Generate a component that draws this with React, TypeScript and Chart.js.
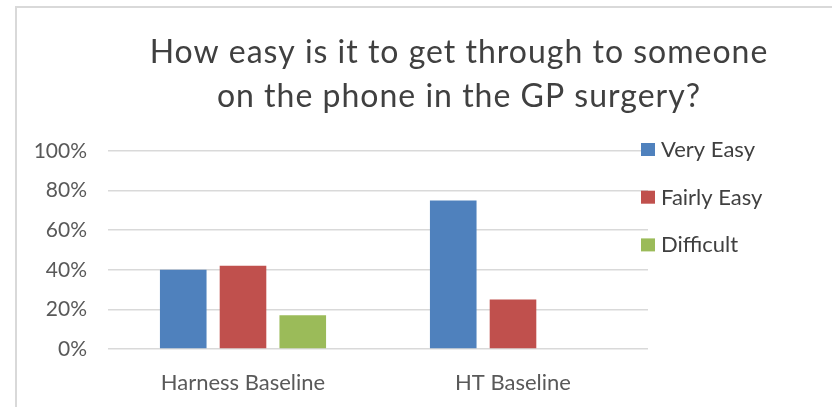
import React, { useEffect, useRef } from "react";
import { Chart, registerables } from "chart.js";

Chart.register(...registerables);

const categories = ["Harness Baseline", "HT Baseline"];
const seriesNames = ["Very Easy", "Fairly Easy", "Difficult"];
const veryEasy = [40, 75];
const fairlyEasy = [42, 25];
const difficult = [17, 0];
const seriesColors = ["#4F81BD", "#C0504D", "#9BBB59"];
const yMin = 0;
const yMax = 100;
const yStep = 20;
const titleLines = [
  "How easy is it to get through to someone",
  "on the phone in the GP surgery?",
];

const FONT = "Lato, 'Noto Sans', sans-serif";

const decorPlugin = {
  id: "decor",
  beforeDraw(chart: any) {
    const ctx = chart.ctx;
    ctx.save();
    ctx.fillStyle = "#ffffff";
    ctx.fillRect(0, 0, chart.width, chart.height);
    ctx.strokeStyle = "#d9d9d9";
    ctx.lineWidth = 2;
    ctx.strokeRect(16, 7, chart.width + 40, chart.height + 40);
    ctx.restore();
  },
  afterDraw(chart: any) {
    const ctx = chart.ctx;
    ctx.save();
    // title
    ctx.fillStyle = "#404040";
    ctx.font = `32px ${FONT}`;
    try {
      (ctx as any).letterSpacing = "1px";
    } catch (e) {}
    ctx.textAlign = "center";
    ctx.textBaseline = "alphabetic";
    ctx.fillText(titleLines[0], 459, 63);
    ctx.fillText(titleLines[1], 459, 107);
    try {
      (ctx as any).letterSpacing = "0px";
    } catch (e) {}
    // legend
    ctx.textAlign = "left";
    ctx.font = `22px ${FONT}`;
    chart.data.datasets.forEach((ds: any, i: number) => {
      const y = 143 + i * 47.7;
      ctx.fillStyle = ds.backgroundColor;
      ctx.fillRect(641, y, 14, 13);
      ctx.fillStyle = "#404040";
      ctx.fillText(ds.label, 661, y + 14);
    });
    ctx.restore();
  },
};

export default function App() {
  const canvasRef = useRef<HTMLCanvasElement | null>(null);

  useEffect(() => {
    document.body.style.margin = "0";
    const canvas = canvasRef.current;
    if (!canvas) return;
    const values = [veryEasy, fairlyEasy, difficult];
    const chart = new Chart(canvas, {
      type: "bar",
      data: {
        labels: categories,
        datasets: seriesNames.map((name, i) => ({
          label: name,
          data: values[i],
          backgroundColor: seriesColors[i],
          borderWidth: 0,
          categoryPercentage: 0.664,
          barPercentage: 0.78,
        })),
      },
      options: {
        responsive: false,
        animation: false,
        devicePixelRatio: 1,
        layout: { padding: { top: 151, right: 184, left: 0, bottom: 0 } },
        plugins: {
          legend: { display: false },
          title: { display: false },
          tooltip: { enabled: false },
        },
        scales: {
          x: {
            grid: { display: false },
            border: { display: false },
            ticks: {
              color: "#595959",
              font: { family: FONT, size: 22 },
              padding: 13,
            },
            afterFit: (s: any) => {
              s.height = 58;
              s.paddingLeft = 0;
              s.paddingRight = 0;
            },
          },
          y: {
            min: yMin,
            max: yMax,
            ticks: {
              stepSize: yStep,
              color: "#595959",
              font: { family: FONT, size: 21 },
              padding: 21,
              callback: (v: any) => `${v}%`,
            },
            grid: { color: "#d9d9d9", lineWidth: 1.5, drawTicks: false },
            border: { display: false },
            afterFit: (s: any) => {
              s.width = 108;
              s.paddingTop = 0;
              s.paddingBottom = 0;
            },
          },
        },
      },
      plugins: [decorPlugin],
    });
    return () => chart.destroy();
  }, []);

  return (
    <div style={{ width: 832, height: 407, position: "relative" }}>
      <canvas ref={canvasRef} width={832} height={407} style={{ display: "block" }} />
    </div>
  );
}
